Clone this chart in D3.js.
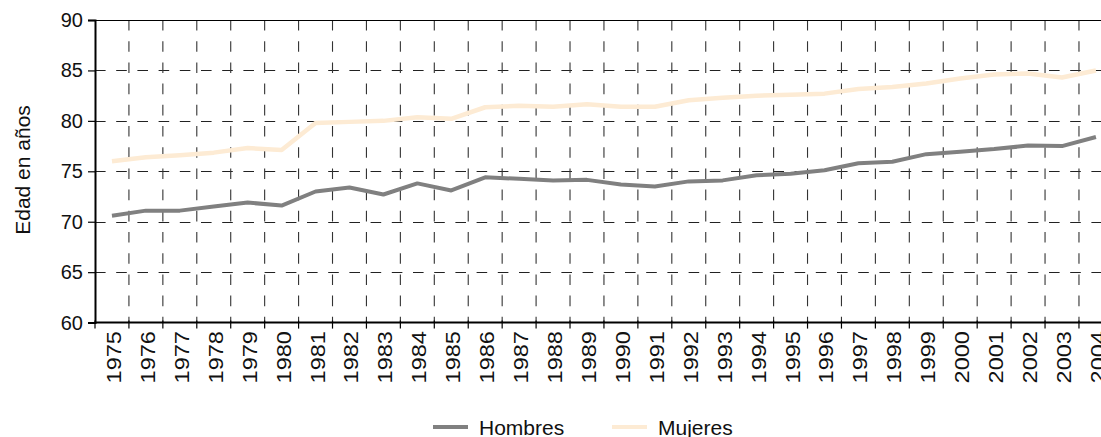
<!DOCTYPE html>
<html><head><meta charset="utf-8">
<script src="https://cdn.jsdelivr.net/npm/d3@7"></script>
<style>
html,body{margin:0;padding:0;background:#fff;overflow:hidden;}
svg{display:block;font-family:"Liberation Sans",Arial,sans-serif;}
</style></head>
<body>
<svg id="chart" width="1101" height="437"></svg>
<script>
const years = ["1975","1976","1977","1978","1979","1980","1981","1982","1983","1984","1985","1986","1987","1988","1989","1990","1991","1992","1993","1994","1995","1996","1997","1998","1999","2000","2001","2002","2003","2004"];
const hombres = [70.6,71.1,71.1,71.5,71.9,71.6,73.0,73.4,72.7,73.8,73.1,74.4,74.25,74.1,74.15,73.7,73.5,74.0,74.1,74.6,74.75,75.1,75.8,75.95,76.7,76.95,77.2,77.55,77.5,78.4];
const mujeres = [76.0,76.4,76.6,76.85,77.3,77.1,79.8,79.9,80.0,80.35,80.2,81.35,81.5,81.4,81.65,81.4,81.4,82.05,82.3,82.5,82.6,82.7,83.15,83.35,83.7,84.2,84.6,84.7,84.3,85.0];
const yTicks = [60,65,70,75,80,85,90];
const seriesNames = ["Hombres","Mujeres"];
const seriesColors = ["#808080","#fdebd4"];

(function(){
const svg = d3.select("#chart");
const mLeft = 95, mTop = 20, mBottom = 322.6, bandW = 33.93;
const mRight = mLeft + years.length * bandW;

const x = d3.scaleBand().domain(years).range([mLeft, mRight]).paddingInner(0).paddingOuter(0);
const y = d3.scaleLinear().domain([60, 90]).range([mBottom, mTop]);

// horizontal gridlines
svg.append("g").selectAll("line").data(yTicks.filter(t => t > 60 && t < 90)).join("line")
  .attr("x1", mLeft).attr("x2", mRight)
  .attr("y1", d => Math.round(y(d)) + 0.5).attr("y2", d => Math.round(y(d)) + 0.5)
  .attr("stroke", "#222").attr("stroke-width", 1).attr("stroke-dasharray", "10.6,10.6");

// vertical gridlines at category boundaries
svg.append("g").selectAll("line").data(years.slice(1)).join("line")
  .attr("x1", d => x(d)).attr("x2", d => x(d))
  .attr("y1", mTop).attr("y2", mBottom)
  .attr("stroke", "#333").attr("stroke-width", 1.1).attr("stroke-dasharray", "10.6,10.6");

// top border
svg.append("line").attr("x1", mLeft).attr("x2", mRight).attr("y1", mTop + 0.5).attr("y2", mTop + 0.5)
  .attr("stroke", "#000").attr("stroke-width", 1);

// lines
const lineGen = d3.line().x((d, i) => x(years[i]) + x.bandwidth() / 2).y(d => y(d));
[[mujeres, 1, 4.5], [hombres, 0, 4]].forEach(([s, idx, w]) => {
  svg.append("path").datum(s).attr("d", lineGen)
    .attr("fill", "none").attr("stroke", seriesColors[idx]).attr("stroke-width", w)
    .attr("stroke-linejoin", "round");
});

// y axis
const yAxis = d3.axisLeft(y).tickValues(yTicks).tickSize(7).tickPadding(5).tickFormat(d3.format("d"));
const gy = svg.append("g").attr("transform", `translate(${mLeft},0)`).call(yAxis);
gy.select(".domain").attr("stroke", "#000").attr("stroke-width", 2);
gy.selectAll(".tick line").attr("stroke", "#000").attr("stroke-width", 1.2);
gy.selectAll(".tick text").attr("font-size", 20).attr("fill", "#111").attr("font-family", "Liberation Sans, Arial, sans-serif");

// x axis
const gx = svg.append("g").attr("transform", `translate(0,${mBottom})`);
gx.append("line").attr("x1", mLeft).attr("x2", mRight).attr("y1", 0).attr("y2", 0)
  .attr("stroke", "#000").attr("stroke-width", 2);
gx.selectAll("line.tk").data(years.concat(["end"])).join("line").attr("class", "tk")
  .attr("x1", (d, i) => mLeft + i * bandW).attr("x2", (d, i) => mLeft + i * bandW)
  .attr("y1", -2).attr("y2", 6).attr("stroke", "#000").attr("stroke-width", 1.2);
gx.selectAll("text").data(years).join("text")
  .attr("transform", d => `translate(${x(d) + x.bandwidth() / 2 + 9},8.5) rotate(-90) scale(1.12,1)`)
  .attr("text-anchor", "end").attr("font-size", 21).attr("fill", "#111")
  .text(d => d);

// y title
svg.append("text").attr("transform", "translate(30,170) rotate(-90)")
  .attr("text-anchor", "middle").attr("font-size", 21).attr("fill", "#111").text("Edad en años");

// legend
const leg = svg.append("g");
const legX = [433, 612];
seriesNames.forEach((n, i) => {
  leg.append("line").attr("x1", legX[i]).attr("x2", legX[i] + 35).attr("y1", 427).attr("y2", 427)
    .attr("stroke", seriesColors[i]).attr("stroke-width", 4);
  leg.append("text").attr("x", legX[i] + 46).attr("y", 434.5).attr("font-size", 21).attr("fill", "#111").text(n);
});
})();
</script>
</body></html>
